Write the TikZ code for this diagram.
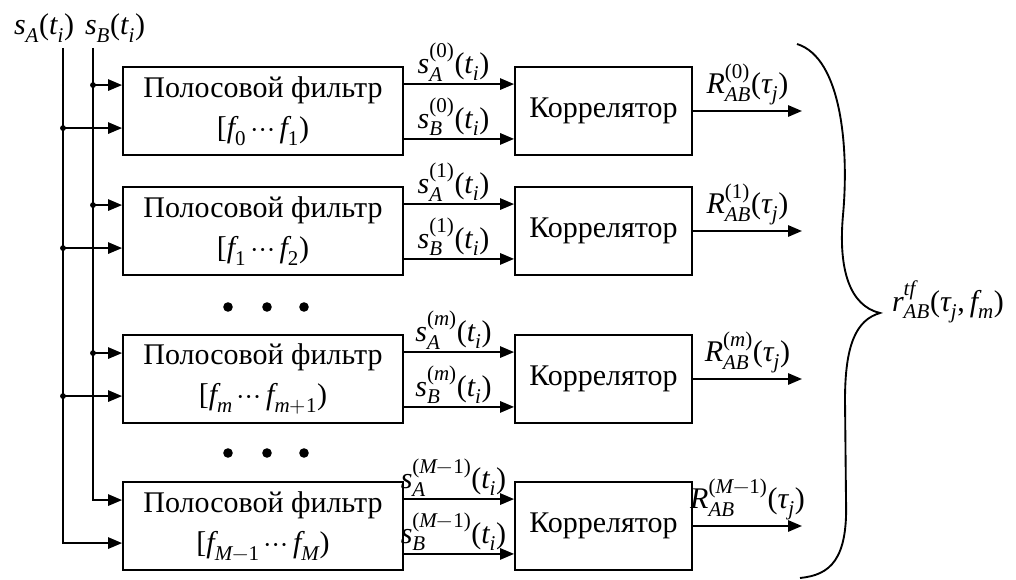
\documentclass[tikz,border=0pt]{standalone}
\usepackage{fontspec}
\usepackage{unicode-math}
\setmainfont{Liberation Serif}
\setmathfont{Latin Modern Math}
\setmathfont[range={it->up}]{Liberation Serif Italic}
\setmathfont[range={up/{num}}]{Liberation Serif}
\setmathfont[range={"28,"29,"5B,"2C}]{Liberation Serif}
\usetikzlibrary{arrows.meta,calc}
\begin{document}
\begin{tikzpicture}[x=0.75pt,y=-0.75pt,
  every node/.style={font=\fontsize{22.5}{29}\selectfont},
  filt/.style={draw,line width=1.4pt,minimum width=210pt,minimum height=66pt,inner sep=0pt,align=center},
  corr/.style={draw,line width=1.4pt,minimum width=132.75pt,minimum height=66pt,inner sep=0pt},
  wire/.style={line width=1.4pt},
  arr/.style={wire,-{Triangle[length=10.5pt,width=8.5pt]}},
  lab/.style={inner sep=1.5pt},
  junct/.style={fill,circle,inner sep=0pt,minimum size=4.4pt}]
\useasboundingbox (0,0) rectangle (1016,580);

% input labels
\node (lA) at (44,28) {$s_A(t_i)$};
\node (lB) at (115,28) {$s_B(t_i)$};
\coordinate (At) at (63,48);
\coordinate (Bt) at (93,48);

% boxes
\node[filt] (F1) at (263,111) {Полосовой фильтр\\[1pt]$[f_0\cdots f_1)$};
\node[filt] (F2) at (263,231) {Полосовой фильтр\\[1pt]$[f_1\cdots f_2)$};
\node[filt] (F3) at (263,379) {Полосовой фильтр\\[1pt]$[f_m\cdots f_{m+1})$};
\node[filt] (F4) at (263,526) {Полосовой фильтр\\[1pt]$[f_{M-1}\cdots f_M)$};

\node[corr] (C1) at (603.5,111) {Коррелятор};
\node[corr] (C2) at (603.5,231) {Коррелятор};
\node[corr] (C3) at (603.5,379) {Коррелятор};
\node[corr] (C4) at (603.5,526) {Коррелятор};

% input taps
\foreach \i in {1,...,4}{
  \coordinate (b\i) at ([yshift=-14.25pt]F\i.north west);
  \coordinate (a\i) at ([yshift=-46.5pt]F\i.north west);
}
\foreach \i in {1,2,3}{
  \node[junct] (jb\i) at (Bt |- b\i) {};
  \node[junct] (ja\i) at (At |- a\i) {};
  \draw[arr] (jb\i.center) -- (b\i);
  \draw[arr] (ja\i.center) -- (a\i);
}
\draw[arr] (Bt) |- (b4);
\draw[arr] (At) |- (a4);

% filter -> correlator
\foreach \i/\k in {1/0,2/1,3/m,4/M-1}{
  \draw[arr] ([yshift=-13.5pt]F\i.north east) -- node[above,lab,pos=0.45] {$s_A^{(\k)}(t_i)$} ([yshift=-13.5pt]C\i.north west);
  \draw[arr] ([yshift=12.75pt]F\i.south east) -- node[above,lab,pos=0.45] {$s_B^{(\k)}(t_i)$} ([yshift=12.75pt]C\i.south west);
  \coordinate (o\i) at (C\i.east -| 802,0);
  \draw[arr] (C\i.east) -- node[above,lab,pos=0.5,yshift=2pt] {$R_{AB}^{(\k)}(\tau_j)$} (o\i);
}

% dots
\foreach \y in {307,453}{
  \foreach \x in {228,267,304}{
    \fill (\x,\y) circle (3.6pt);
  }
}

% brace
\draw[line width=1.4pt] (797,44) .. controls (842,58) and (849,150) .. (843,215)
  .. controls (838,270) and (850,306) .. (880,313)
  .. controls (856,320) and (845,345) .. (845,400)
  -- (846,500) .. controls (848,560) and (830,575) .. (800,578);
\node (r) at (948,302) {$r_{AB}^{tf}(\tau_j,f_m)$};
\end{tikzpicture}
\end{document}
